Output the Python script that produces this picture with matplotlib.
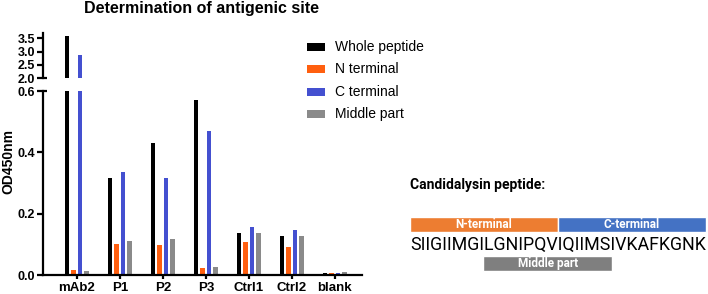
import matplotlib
matplotlib.use("Agg")
import matplotlib.pyplot as plt
import numpy as np
from matplotlib.patches import Rectangle

plt.rcParams['font.family'] = ['Liberation Sans', 'DejaVu Sans']

# ELISA readings (OD450nm)
groups = ['mAb2', 'P1', 'P2', 'P3', 'Ctrl1', 'Ctrl2', 'blank']
whole = [3.58, 0.317, 0.431, 0.571, 0.137, 0.127, 0.006]
n_term = [0.015, 0.100, 0.097, 0.022, 0.108, 0.091, 0.005]
c_term = [2.88, 0.337, 0.315, 0.471, 0.155, 0.148, 0.005]
middle = [0.012, 0.112, 0.116, 0.027, 0.137, 0.128, 0.009]
series = [whole, n_term, c_term, middle]
series_names = ['Whole peptide', 'N terminal', 'C terminal', 'Middle part']
colors = ['#000000', '#ff5f0f', '#4450d0', '#8a8a8a']

# peptide map: region name, first residue (0-based), end residue, row
peptide = 'SIIGIIMGILGNIPQVIQIIMSIVKAFKGNK'
regions = [('N-terminal', 0, 16, 0), ('C-terminal', 16, 31, 0), ('Middle part', 8.8, 22.4, 1)]
region_colors = ['#ed7d31', '#4472c4', '#7f7f7f']

W, H = 708, 294
fig = plt.figure(figsize=(W / 100, H / 100), dpi=100)


def box(x0, y0, x1, y1):
    # pixel box (top-down) -> figure fraction rect
    return [x0 / W, 1 - y1 / H, (x1 - x0) / W, (y1 - y0) / H]


ax_top = fig.add_axes(box(43, 33, 362, 78))
ax_bot = fig.add_axes(box(43, 91, 362, 275))

x = np.arange(len(groups))
offs = (np.arange(len(series)) - 1.5) * 0.151
for ax in (ax_top, ax_bot):
    for i, vals in enumerate(series):
        ax.bar(x + offs[i], vals, width=0.105, color=colors[i], linewidth=0)
    ax.set_xlim(-0.79, 6.63)
    ax.spines['top'].set_visible(False)
    ax.spines['right'].set_visible(False)
    ax.spines['left'].set_linewidth(1.6)
    ax.spines['bottom'].set_linewidth(1.6)
    ax.tick_params(width=1.6, length=4, labelsize=9, pad=1.5)

ax_top.set_ylim(2.0, 3.7)
ax_top.spines['bottom'].set_visible(False)
ax_top.set_xticks([])
ax_top.set_yticks([2.0, 2.5, 3.0, 3.5])
ax_top.set_yticklabels(['2.0', '2.5', '3.0', '3.5'], fontweight='bold')

ax_bot.set_ylim(0, 0.6)
ax_bot.set_yticks([0, 0.2, 0.4, 0.6])
ax_bot.set_yticklabels(['0.0', '0.2', '0.4', '0.6'], fontweight='bold')
ax_bot.set_xticks(x)
ax_bot.set_xticklabels(groups, fontweight='bold', fontsize=9.5)
ax_bot.tick_params(axis='x', length=3, pad=2)

# axis break marks
ax_top.plot([0, 0.014], [2.0, 2.0], color='black', lw=1.6, clip_on=False,
            transform=ax_top.get_yaxis_transform(), solid_capstyle='butt')
ax_bot.plot([0, 0.014], [0.6, 0.6], color='black', lw=1.6, clip_on=False,
            transform=ax_bot.get_yaxis_transform(), solid_capstyle='butt')

fig.text(8 / W, 1 - 162 / H, 'OD450nm', rotation=90, fontweight='bold',
         fontsize=10, ha='center', va='center')
fig.text(201 / W, 1 - 9 / H, 'Determination of antigenic site', fontweight='bold',
         fontsize=11.5, ha='center', va='center')

# overlay in pixel coordinates for legend and peptide map
ov = fig.add_axes([0, 0, 1, 1])
ov.set_xlim(0, W)
ov.set_ylim(H, 0)
ov.axis('off')

for i, name in enumerate(series_names):
    yc = 47 + 22.4 * i
    ov.add_patch(Rectangle((307, yc - 4), 18, 8, color=colors[i], lw=0))
    ov.text(335, yc, name, fontsize=10, va='center', ha='left')

renderer = fig.canvas.get_renderer()
pep_font = ['Roboto', 'DejaVu Sans']

ov.text(410, 185, 'Candidalysin peptide:', fontweight='bold', fontsize=10,
        family=pep_font, va='center', ha='left')

pep_left, pep_width = 410, 296
t = ov.text(pep_left, 245, peptide, fontsize=13, family=pep_font, va='center', ha='left')
fs = 13 * pep_width / t.get_window_extent(renderer).width
t.set_fontsize(fs)


def residue_x(k):
    # x pixel of the boundary before residue k (k may be fractional)
    lo = int(np.floor(k))
    hi = min(lo + 1, len(peptide))

    def w(n):
        if n == 0:
            return 0.0
        tmp = ov.text(0, 0, peptide[:n], fontsize=fs, family=pep_font)
        width = tmp.get_window_extent(renderer).width
        tmp.remove()
        return width
    wl = w(lo)
    wh = w(hi) if hi != lo else wl
    return pep_left + wl + (wh - wl) * (k - lo)


row_top = [217, 256]
for (name, s, e, row), col in zip(regions, region_colors):
    x0, x1 = residue_x(s), residue_x(e)
    ov.add_patch(Rectangle((x0, row_top[row]), x1 - x0, 15, facecolor=col,
                           edgecolor='white', lw=1))
    ov.text((x0 + x1) / 2, row_top[row] + 7.5, name, color='white', fontsize=8.5,
            fontweight='bold', family=pep_font, ha='center', va='center')

fig.savefig('out.png', dpi=100)
